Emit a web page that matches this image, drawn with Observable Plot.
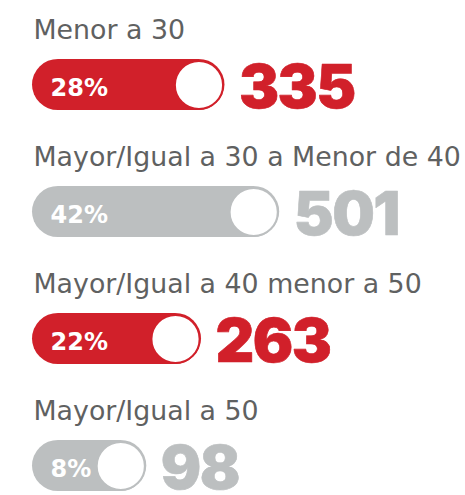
<!DOCTYPE html>
<html><head><meta charset="utf-8">
<script src="https://cdn.jsdelivr.net/npm/d3@7"></script>
<script src="https://cdn.jsdelivr.net/npm/@observablehq/plot@0.6"></script>
<style>html,body{margin:0;padding:0;background:#fff}</style>
</head><body><div id="chart"></div>
<script>
const categories = ["Menor a 30", "Mayor/Igual a 30 a Menor de 40", "Mayor/Igual a 40 menor a 50", "Mayor/Igual a 50"];
const percents = [28, 42, 22, 8];
const counts = [335, 501, 263, 98];

const data = categories.map((c, i) => ({category: c, pct: percents[i], count: counts[i]}));
const RED = "#d1202a", GRAY = "#bcbfc0";

const chart = Plot.plot({
  width: 465,
  height: 495,
  marginTop: 0, marginRight: 0, marginBottom: 0, marginLeft: 0,
  style: {background: "white", fontFamily: "DejaVu Sans"},
  x: {domain: [0, 42], range: [89, 253.2], axis: null},
  y: {domain: categories, range: [19.8, 531], padding: 0, axis: null},
  color: {domain: categories, range: [RED, GRAY, RED, GRAY]},
  marks: [
    Plot.barX(data, {x1: 0, x2: "pct", y: "category", fill: "category", rx: 26,
      insetLeft: -57, insetRight: -26, insetTop: 37.9, insetBottom: 37.9}),
    Plot.dot(data, {x: "pct", y: "category", r: 24, fill: "white", stroke: "category", strokeWidth: 1.8}),
    Plot.text(data, {y: "category", text: "category", frameAnchor: "left", dx: 33, dy: -46.5,
      lineAnchor: "bottom", textAnchor: "start", fontSize: 26.8, fill: "#5f6161", fontFamily: "DejaVu Sans"}),
    Plot.text(data, {y: "category", text: d => d.pct + "%", frameAnchor: "left", dx: 50, dy: 10.5,
      lineAnchor: "bottom", textAnchor: "start", fontSize: 24, fontWeight: "bold", fill: "white", fontFamily: "DejaVu Sans"}),
    Plot.text(data, {x: "pct", y: "category", text: d => String(d.count), dx: 40, dy: 23,
      lineAnchor: "bottom", textAnchor: "start", fontSize: 60, fontWeight: 900, fontFamily: "Inter",
      fill: "category", stroke: "category", strokeWidth: 0.6})
  ]
});
// slightly tighten the big numbers' tracking (last text layer)
const textLayers = chart.querySelectorAll('g[aria-label="text"]');
if (textLayers.length) textLayers[textLayers.length - 1].setAttribute("letter-spacing", "-1.5");
document.getElementById("chart").appendChild(chart);
</script>
</body></html>
